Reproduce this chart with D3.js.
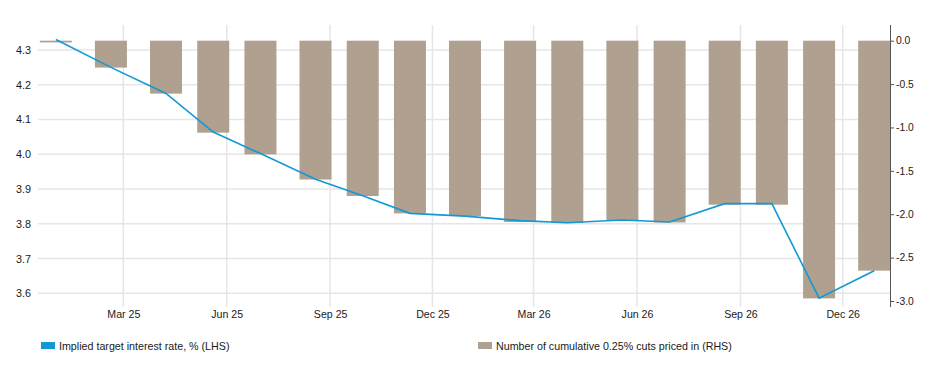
<!DOCTYPE html>
<html>
<head>
<meta charset="utf-8">
<script src="https://cdn.jsdelivr.net/npm/d3@7"></script>
<style>
  html, body { margin: 0; padding: 0; background: #fff; }
  svg { display: block; font-family: "Liberation Sans", Arial, sans-serif; }
</style>
</head>
<body>
<svg id="chart" width="937" height="383"></svg>
<script>
// ---- data ----
const dates = ["2024-12-31","2025-02-18","2025-04-08","2025-05-20","2025-07-01","2025-08-19",
  "2025-09-30","2025-11-11","2025-12-30","2026-02-17","2026-03-31","2026-05-19",
  "2026-06-30","2026-08-18","2026-09-29","2026-11-10","2026-12-29"];
const impliedRate = [4.33, 4.25, 4.175, 4.064, 4.002, 3.928, 3.881, 3.83, 3.822,
  3.809, 3.803, 3.811, 3.805, 3.858, 3.858, 3.586, 3.665];
const cumulativeCuts = [-0.02, -0.31, -0.61, -1.06, -1.31, -1.6, -1.79, -1.99, -2.02,
  -2.09, -2.1, -2.07, -2.095, -1.89, -1.89, -2.97, -2.65];
const xTickDates = ["2025-03-01","2025-06-01","2025-09-01","2025-12-01",
  "2026-03-01","2026-06-01","2026-09-01","2026-12-01"];
const leftTicks = [3.6, 3.7, 3.8, 3.9, 4.0, 4.1, 4.2, 4.3];
const rightTicks = [0, -0.5, -1.0, -1.5, -2.0, -2.5, -3.0];
const seriesNames = ["Implied target interest rate, % (LHS)", "Number of cumulative 0.25% cuts priced in (RHS)"];

// ---- layout ----
const parse = d3.utcParse("%Y-%m-%d");
const fmt = d3.utcFormat("%b %y");
const plotLeft = 38, plotRight = 890, plotTop = 25, plotBottom = 307;
const lineColor = "#1398d6", barColor = "#afa08f", gridColor = "#e6e6e6", textColor = "#1a1a1a";
const barWidth = 32;
const fontFam = "Liberation Sans, Arial, sans-serif";

const svg = d3.select("#chart");

const x = d3.scaleUtc()
  .domain([parse("2025-03-01"), parse("2026-12-01")])
  .range([123.3, 842.7]);
const yL = d3.scaleLinear().domain([3.6, 4.3]).range([293.3, 50]);
const yR = d3.scaleLinear().domain([-3, 0]).range([301, 40.7]);

const data = dates.map((d, i) => ({ date: parse(d), rate: impliedRate[i], cuts: cumulativeCuts[i] }));

// horizontal gridlines (left axis)
svg.append("g")
  .selectAll("line").data(leftTicks).join("line")
  .attr("x1", plotLeft).attr("x2", plotRight)
  .attr("y1", d => yL(d)).attr("y2", d => yL(d))
  .attr("stroke", gridColor).attr("stroke-width", 1.5);

// vertical gridlines
svg.append("g")
  .selectAll("line").data(xTickDates).join("line")
  .attr("x1", d => x(parse(d))).attr("x2", d => x(parse(d)))
  .attr("y1", plotTop).attr("y2", plotBottom)
  .attr("stroke", gridColor).attr("stroke-width", 1.5);

// left axis labels
const leftAxis = d3.axisLeft(yL).tickValues(leftTicks).tickSize(0).tickPadding(0)
  .tickFormat(d => d.toFixed(1));
const gL = svg.append("g").attr("transform", "translate(31,0)").call(leftAxis);
gL.select(".domain").remove();
gL.selectAll("text").attr("font-size", 10.8).attr("fill", textColor).attr("font-family", fontFam);

// x axis labels
const xAxis = d3.axisBottom(x).tickValues(xTickDates.map(parse)).tickSize(0).tickPadding(0)
  .tickFormat(fmt);
const gX = svg.append("g").attr("transform", "translate(0,310)").call(xAxis);
gX.select(".domain").remove();
gX.selectAll("text").attr("font-size", 10.6).attr("fill", textColor).attr("font-family", fontFam);

// bars
svg.append("g")
  .selectAll("rect").data(data).join("rect")
  .attr("x", d => x(d.date) - barWidth / 2)
  .attr("width", barWidth)
  .attr("y", d => Math.min(yR(0), yR(d.cuts)))
  .attr("height", d => Math.max(1.5, Math.abs(yR(d.cuts) - yR(0))))
  .attr("fill", barColor);

// line
svg.append("path").datum(data)
  .attr("d", d3.line().x(d => x(d.date)).y(d => yL(d.rate)))
  .attr("fill", "none").attr("stroke", lineColor).attr("stroke-width", 1.6);

// right axis
const rightAxis = d3.axisRight(yR).tickValues(rightTicks).tickSize(4).tickPadding(2)
  .tickFormat(d => d.toFixed(1));
const gR = svg.append("g").attr("transform", `translate(${plotRight},0)`).call(rightAxis);
gR.select(".domain").remove();
gR.append("line").attr("x1", 0.5).attr("x2", 0.5).attr("y1", plotTop).attr("y2", plotBottom)
  .attr("stroke", "#555").attr("stroke-width", 1);
gR.selectAll(".tick line").attr("stroke", "#555");
gR.selectAll("text").attr("font-size", 10.3).attr("fill", textColor).attr("font-family", fontFam);

// legend
const legend = svg.append("g");
const legendItems = [
  { name: seriesNames[0], color: lineColor, x: 41 },
  { name: seriesNames[1], color: barColor, x: 478 }
];
legendItems.forEach(it => {
  legend.append("rect").attr("x", it.x).attr("y", 342).attr("width", 14).attr("height", 7)
    .attr("fill", it.color);
  legend.append("text").attr("x", it.x + 18).attr("y", 349.5)
    .attr("font-size", 10.7).attr("fill", textColor).attr("font-family", fontFam).text(it.name);
});
</script>
</body>
</html>
